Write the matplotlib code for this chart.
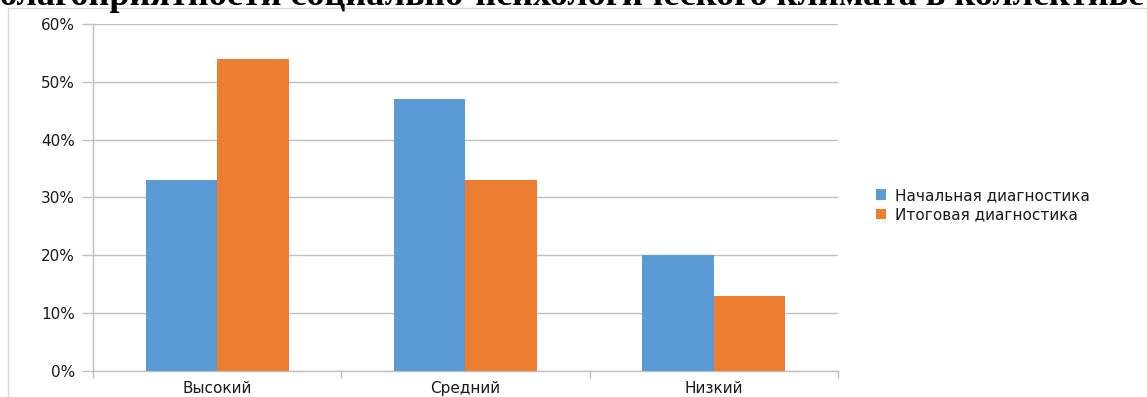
import numpy as np
import matplotlib
matplotlib.use("Agg")
import matplotlib.pyplot as plt
import matplotlib.patches as mpatches
from matplotlib.ticker import FuncFormatter

categories = ["Высокий", "Средний", "Низкий"]
series_names = ["Начальная диагностика", "Итоговая диагностика"]
initial = [33, 47, 20]
final = [54, 33, 13]
y_ticks = [0, 10, 20, 30, 40, 50, 60]
title = "Оценка благоприятности социально-психологического климата в коллективе"

blue = "#5B9BD5"
orange = "#ED7D31"
grid_col = "#BFBFBF"
text_col = "#1A1A1A"

plt.rcParams["font.family"] = ["DejaVu Sans"]

fig = plt.figure(figsize=(11.47, 3.97), dpi=100)
W, H = 1147, 397

# chart frame
frame = mpatches.Rectangle((8 / W, -0.1), 1.2, 1 - 8 / H + 0.1, transform=fig.transFigure,
                           fill=False, edgecolor="#D9D9D9", linewidth=1.0, zorder=0)
fig.patches.append(frame)

# title running off the top of the frame
fig.text(0.44, 1 - 5 / H, title, ha="center", va="baseline", fontsize=26,
         fontweight="bold", family="Liberation Serif", color="black")

ax = fig.add_axes([93 / W, 1 - 371 / H, (838 - 93) / W, (371 - 24) / H])

x = np.arange(len(categories)) + 0.5
bw = 0.2875
ax.bar(x - bw / 2, initial, bw, color=blue, label=series_names[0], zorder=3)
ax.bar(x + bw / 2, final, bw, color=orange, label=series_names[1], zorder=3)

ax.set_xlim(0, len(categories))
ax.set_ylim(0, 60)
ax.set_yticks(y_ticks)
ax.yaxis.set_major_formatter(FuncFormatter(lambda v, p: f"{v:.0f}%"))
ax.yaxis.grid(True, color=grid_col, linewidth=1.0, zorder=0)
ax.tick_params(axis="y", length=8, width=1, color=grid_col, pad=5,
               labelsize=11, labelcolor=text_col)

ax.set_xticks(np.arange(len(categories) + 1))
ax.set_xticklabels([])
ax.set_xticks(x, minor=True)
ax.set_xticklabels(categories, minor=True)
ax.tick_params(axis="x", which="major", length=5, width=1, color=grid_col)
ax.tick_params(axis="x", which="minor", length=0, pad=7, labelsize=11, labelcolor=text_col)

for s in ["top", "right"]:
    ax.spines[s].set_visible(False)
for s in ["left", "bottom"]:
    ax.spines[s].set_color(grid_col)
    ax.spines[s].set_linewidth(1.0)

ax.legend(loc="center left", bbox_to_anchor=(1.032, 0.478), frameon=False,
          fontsize=11, handlelength=0.7, handleheight=0.7, handletextpad=0.6,
          labelspacing=0.3, labelcolor=text_col)

fig.savefig("out.png", dpi=100)
